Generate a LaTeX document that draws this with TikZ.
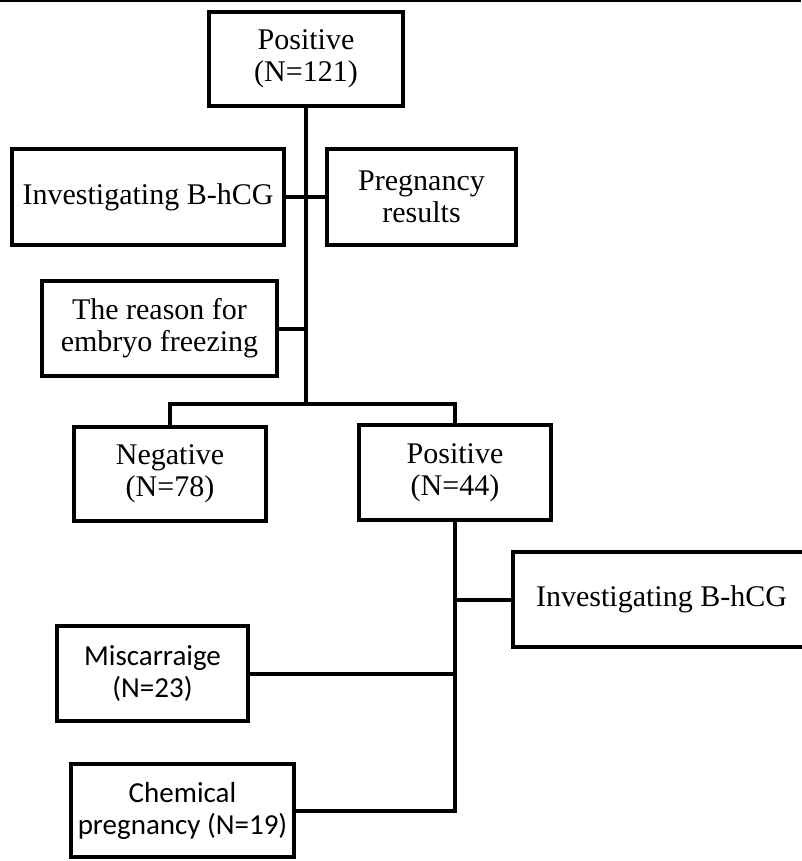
\documentclass[tikz,border=0pt]{standalone}
\usepackage{fontspec}
\setmainfont{Liberation Serif}
\newfontfamily\calibri{Carlito}

\tikzset{
  box/.style={draw, line width=4pt, align=center, inner sep=0pt,
    font=\fontsize{30}{32}\selectfont},
  sbox/.style={box, font=\calibri\fontsize{29}{32}\selectfont},
  link/.style={line width=4pt}
}

\begin{document}
\begin{tikzpicture}[x=1pt,y=-1pt]
  \useasboundingbox (0,0) rectangle (801,861);
  \draw[line width=2pt] (0,1) -- (801,1);

  \node[box, minimum width=194pt, minimum height=94pt] (top) at (306,59) {Positive\\(N=121)};
  \node[box, minimum width=272pt, minimum height=96pt] (hcga) at (148,197) {Investigating B-hCG};
  \node[box, minimum width=189pt, minimum height=96pt] (preg) at (421.5,197) {Pregnancy\\results};
  \node[box, minimum width=235pt, minimum height=95pt] (reason) at (159.5,328.5) {The reason for\\embryo freezing};
  \node[box, minimum width=192pt, minimum height=94pt] (neg) at (170,474) {Negative\\(N=78)};
  \node[box, minimum width=192pt, minimum height=95pt] (pos) at (455,472.5) {Positive\\(N=44)};
  \node[box, minimum width=297pt, minimum height=95pt] (hcgb) at (661.5,599.5) {Investigating B-hCG};
  \node[sbox, minimum width=191pt, minimum height=95pt] (misc) at (152.5,673.5) {Miscarraige\\(N=23)};
  \node[sbox, minimum width=223pt, minimum height=93pt] (chem) at (182.5,810.5) {Chemical\\pregnancy (N=19)};

  \coordinate (bus) at (top.south |- 0,404);
  \coordinate (low) at (pos.south |- chem.east);

  \draw[link] (top.south) -- (bus);
  \draw[link] (hcga.east) -- (preg.west);
  \draw[link] (reason.east) -- (reason.east -| top.south);
  \draw[link] (neg.north) |- (bus) -| (pos.north);
  \draw[link, line join=miter] (pos.south) -- (low) -- (chem.east);
  \draw[link] (misc.east) -- (misc.east -| pos.south);
  \draw[link] (hcgb.west) -- (hcgb.west -| pos.south);
\end{tikzpicture}
\end{document}
